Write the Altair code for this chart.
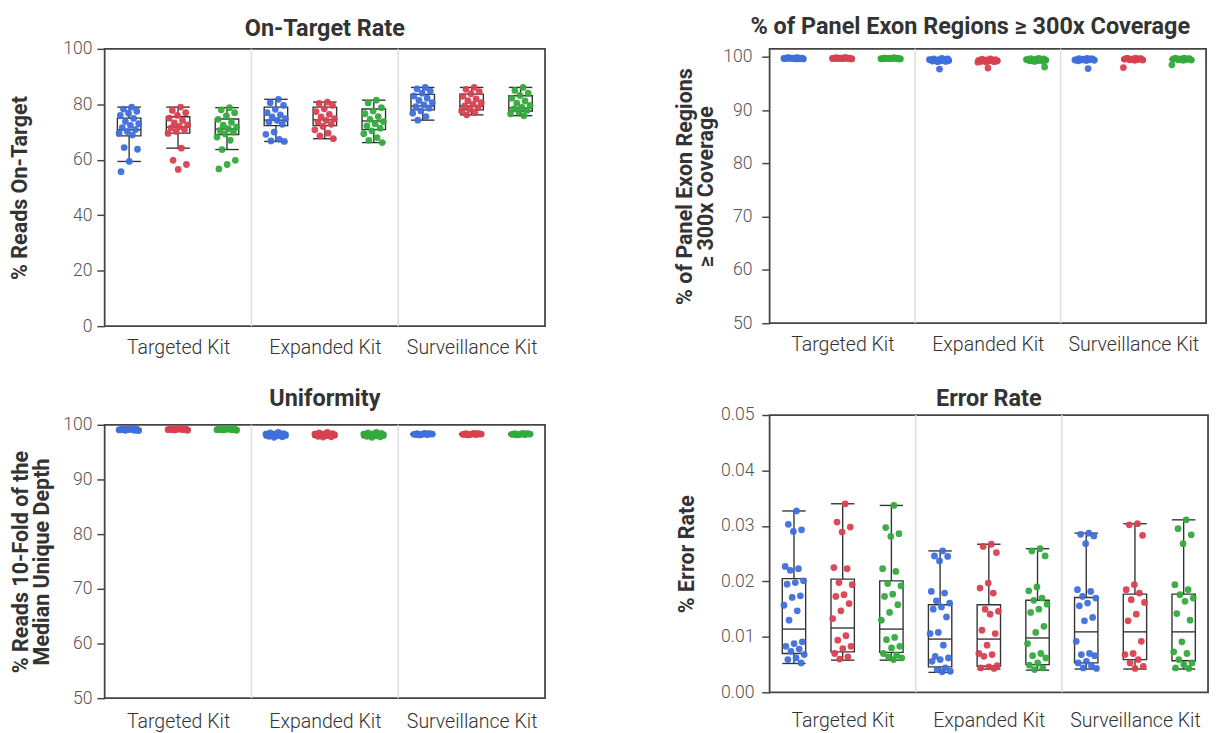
import json
import altair as alt
import pandas as pd

KITS = ["Targeted Kit", "Expanded Kit", "Surveillance Kit"]
SERIES = ["Run 1", "Run 2", "Run 3"]
COLORS = ["#3e6fdc", "#d8404f", "#34aa3c"]

# ---------------- On-Target Rate (% reads on-target) ----------------
ONT_TARGETED_1 = [79.0, 78.3, 77.5, 76.8, 76.0, 74.9, 73.8, 73.0, 72.4, 71.6, 70.9, 70.2, 69.6, 68.9, 64.4, 63.8, 59.4, 55.7]
ONT_TARGETED_2 = [79.0, 77.8, 77.0, 76.0, 75.0, 74.2, 73.3, 72.6, 72.0, 71.5, 70.8, 70.2, 69.5, 64.2, 59.8, 58.3, 56.5]
ONT_TARGETED_3 = [78.8, 78.0, 77.0, 75.8, 74.6, 73.5, 72.5, 71.8, 71.2, 70.6, 70.0, 69.3, 68.2, 67.0, 63.7, 59.8, 58.3, 56.7]
ONT_EXPANDED_1 = [81.8, 80.6, 79.6, 78.2, 77.0, 76.2, 75.5, 74.8, 74.2, 73.6, 72.8, 70.0, 69.2, 67.4, 66.8, 66.6]
ONT_EXPANDED_2 = [80.8, 80.3, 79.6, 78.4, 77.4, 76.4, 75.5, 74.8, 74.2, 73.6, 72.8, 72.0, 70.8, 69.6, 68.6, 67.6]
ONT_EXPANDED_3 = [81.5, 80.5, 78.8, 77.6, 76.6, 75.6, 74.6, 73.8, 73.0, 72.2, 71.4, 70.4, 69.4, 68.0, 67.0, 66.2]
ONT_SURV_1 = [86.1, 85.6, 84.8, 84.0, 83.0, 82.2, 81.4, 80.6, 79.8, 79.2, 78.6, 77.6, 76.8, 75.6, 74.3]
ONT_SURV_2 = [86.1, 85.4, 84.6, 83.8, 82.9, 82.0, 81.3, 80.6, 80.0, 79.4, 78.8, 78.2, 77.6, 77.0, 76.2]
ONT_SURV_3 = [86.1, 85.0, 84.0, 83.2, 82.2, 81.2, 80.4, 79.6, 78.9, 78.4, 77.8, 77.2, 76.6, 75.9]
# box statistics, order: Targeted(1,2,3), Expanded(1,2,3), Surveillance(1,2,3)
ONT_LO = [59.4, 64.2, 63.7, 66.6, 67.6, 66.2, 74.3, 76.2, 75.9]
ONT_Q1 = [68.6, 69.6, 69.1, 72.3, 72.3, 70.9, 78.0, 78.0, 77.6]
ONT_MED = [70.8, 71.8, 71.1, 74.3, 74.4, 74.0, 79.4, 79.4, 78.7]
ONT_Q3 = [75.0, 75.5, 74.7, 79.0, 79.0, 78.3, 83.6, 83.7, 83.1]
ONT_HI = [79.0, 79.0, 78.8, 81.8, 80.8, 81.5, 86.1, 86.1, 86.1]

# ---------------- % of Panel Exon Regions >= 300x Coverage ----------------
EXON_TARGETED_1 = [99.85, 99.8, 99.75, 99.7, 99.65, 99.8, 99.75, 99.6, 99.7, 99.8, 99.65, 99.75, 99.7, 99.6, 99.8, 99.7, 99.65, 99.75]
EXON_TARGETED_2 = [99.85, 99.8, 99.75, 99.7, 99.65, 99.8, 99.75, 99.6, 99.7, 99.8, 99.65, 99.75, 99.7, 99.8, 99.7, 99.65, 99.75]
EXON_TARGETED_3 = [99.8, 99.75, 99.7, 99.65, 99.6, 99.75, 99.7, 99.6, 99.7, 99.75, 99.65, 99.7, 99.65, 99.8, 99.7, 99.6]
EXON_EXPANDED_1 = [99.7, 99.6, 99.55, 99.5, 99.45, 99.4, 99.35, 99.3, 99.25, 99.2, 99.15, 99.1, 99.5, 99.4, 99.3, 99.6, 97.7]
EXON_EXPANDED_2 = [99.6, 99.55, 99.5, 99.45, 99.4, 99.35, 99.3, 99.25, 99.2, 99.15, 99.1, 99.05, 99.0, 99.4, 99.3, 99.2, 97.9]
EXON_EXPANDED_3 = [99.7, 99.65, 99.6, 99.55, 99.5, 99.45, 99.4, 99.35, 99.3, 99.25, 99.2, 99.15, 99.5, 99.4, 99.3, 98.1]
EXON_SURV_1 = [99.7, 99.65, 99.6, 99.55, 99.5, 99.45, 99.4, 99.35, 99.3, 99.25, 99.6, 99.5, 99.4, 97.8]
EXON_SURV_2 = [99.75, 99.7, 99.65, 99.6, 99.55, 99.5, 99.45, 99.4, 99.35, 99.7, 99.6, 99.5, 98.0]
EXON_SURV_3 = [99.75, 99.7, 99.65, 99.6, 99.55, 99.5, 99.45, 99.4, 99.35, 99.7, 99.6, 99.5, 98.5]
EXON_LO = [99.6, 99.6, 99.6, 99.1, 99.0, 99.15, 99.25, 99.35, 99.35]
EXON_Q1 = [99.65, 99.65, 99.65, 99.2, 99.1, 99.3, 99.38, 99.45, 99.45]
EXON_MED = [99.7, 99.7, 99.7, 99.4, 99.3, 99.42, 99.5, 99.55, 99.55]
EXON_Q3 = [99.78, 99.78, 99.75, 99.55, 99.5, 99.55, 99.6, 99.65, 99.65]
EXON_HI = [99.85, 99.85, 99.8, 99.7, 99.6, 99.7, 99.7, 99.75, 99.75]

# ---------------- Uniformity ----------------
UNI_TARGETED_1 = [99.3, 99.25, 99.2, 99.15, 99.1, 99.05, 99.0, 98.95, 99.2, 99.1, 99.0, 99.15, 99.05, 99.25, 99.1]
UNI_TARGETED_2 = [99.35, 99.3, 99.25, 99.2, 99.15, 99.1, 99.05, 99.0, 99.25, 99.15, 99.1, 99.2, 99.1, 99.3, 99.15]
UNI_TARGETED_3 = [99.35, 99.3, 99.25, 99.2, 99.15, 99.1, 99.05, 99.0, 99.25, 99.15, 99.1, 99.2, 99.1, 99.3, 99.15]
UNI_EXPANDED_1 = [98.6, 98.5, 98.4, 98.35, 98.3, 98.2, 98.15, 98.1, 98.0, 97.9, 97.8, 97.7, 98.3, 98.1, 98.0]
UNI_EXPANDED_2 = [98.6, 98.5, 98.4, 98.35, 98.3, 98.2, 98.15, 98.1, 98.0, 97.9, 97.8, 97.75, 98.3, 98.1, 98.0]
UNI_EXPANDED_3 = [98.6, 98.5, 98.45, 98.35, 98.3, 98.2, 98.15, 98.1, 98.0, 97.9, 97.8, 97.7, 98.3, 98.1, 98.05]
UNI_SURV_1 = [98.45, 98.4, 98.35, 98.3, 98.25, 98.2, 98.15, 98.3, 98.35, 98.25, 98.4, 98.2]
UNI_SURV_2 = [98.45, 98.4, 98.35, 98.3, 98.25, 98.2, 98.15, 98.3, 98.35, 98.25, 98.4, 98.2]
UNI_SURV_3 = [98.45, 98.4, 98.35, 98.3, 98.25, 98.2, 98.15, 98.3, 98.35, 98.25, 98.4, 98.2]
UNI_LO = [98.95, 99.0, 99.0, 97.65, 97.7, 97.65, 98.15, 98.15, 98.15]
UNI_Q1 = [99.05, 99.1, 99.1, 97.8, 97.8, 97.8, 98.22, 98.22, 98.22]
UNI_MED = [99.1, 99.15, 99.15, 98.15, 98.15, 98.15, 98.3, 98.3, 98.3]
UNI_Q3 = [99.2, 99.25, 99.25, 98.45, 98.45, 98.45, 98.38, 98.38, 98.38]
UNI_HI = [99.3, 99.35, 99.35, 98.6, 98.6, 98.6, 98.45, 98.45, 98.45]

# ---------------- Error Rate ----------------
ERR_TARGETED_1 = [0.0327, 0.0303, 0.0293, 0.0290, 0.0227, 0.0223, 0.0220, 0.0201, 0.0198, 0.0195, 0.0174, 0.0171, 0.0157, 0.0147, 0.0130, 0.0091, 0.0088, 0.0083, 0.0078, 0.0074, 0.0068, 0.0062, 0.0059, 0.0053]
ERR_TARGETED_2 = [0.0340, 0.0307, 0.0298, 0.0289, 0.0225, 0.0223, 0.0198, 0.0194, 0.0176, 0.0173, 0.0160, 0.0147, 0.0133, 0.0102, 0.0094, 0.0083, 0.0079, 0.0070, 0.0064, 0.0060]
ERR_TARGETED_3 = [0.0337, 0.0297, 0.0286, 0.0281, 0.0223, 0.0218, 0.0196, 0.0192, 0.0177, 0.0173, 0.0158, 0.0144, 0.0130, 0.0099, 0.0095, 0.0083, 0.0080, 0.0070, 0.0067, 0.0064, 0.0062, 0.0059]
ERR_EXPANDED_1 = [0.0255, 0.0246, 0.0245, 0.0237, 0.0182, 0.0179, 0.0165, 0.0161, 0.0154, 0.0150, 0.0136, 0.0108, 0.0106, 0.0085, 0.0065, 0.0062, 0.0059, 0.0056, 0.0044, 0.0041, 0.0038, 0.0037]
ERR_EXPANDED_2 = [0.0267, 0.0263, 0.0252, 0.0197, 0.0188, 0.0179, 0.0150, 0.0146, 0.0141, 0.0112, 0.0106, 0.0085, 0.0070, 0.0068, 0.0065, 0.0048, 0.0046, 0.0044, 0.0043]
ERR_EXPANDED_3 = [0.0259, 0.0255, 0.0246, 0.0190, 0.0183, 0.0170, 0.0166, 0.0159, 0.0150, 0.0144, 0.0119, 0.0108, 0.0088, 0.0070, 0.0066, 0.0062, 0.0053, 0.0049, 0.0044, 0.0041]
ERR_SURV_1 = [0.0287, 0.0285, 0.0282, 0.0268, 0.0185, 0.0182, 0.0173, 0.0170, 0.0161, 0.0156, 0.0135, 0.0129, 0.0092, 0.0070, 0.0068, 0.0066, 0.0056, 0.0053, 0.0048, 0.0044, 0.0043]
ERR_SURV_2 = [0.0304, 0.0302, 0.0283, 0.0194, 0.0185, 0.0179, 0.0167, 0.0162, 0.0141, 0.0129, 0.0092, 0.0070, 0.0068, 0.0059, 0.0053, 0.0047, 0.0043]
ERR_SURV_3 = [0.0311, 0.0295, 0.0284, 0.0268, 0.0194, 0.0185, 0.0176, 0.0170, 0.0164, 0.0142, 0.0130, 0.0091, 0.0073, 0.0070, 0.0059, 0.0053, 0.0050, 0.0044, 0.0043]
ERR_LO = [0.0052, 0.0058, 0.0058, 0.0036, 0.0042, 0.0040, 0.0042, 0.0042, 0.0042]
ERR_Q1 = [0.0070, 0.0073, 0.0072, 0.0046, 0.0047, 0.0050, 0.0053, 0.0059, 0.0057]
ERR_MED = [0.0114, 0.0116, 0.0114, 0.0096, 0.0096, 0.0098, 0.0109, 0.0109, 0.0109]
ERR_Q3 = [0.0205, 0.0204, 0.0201, 0.0158, 0.0158, 0.0166, 0.0171, 0.0177, 0.0177]
ERR_HI = [0.0327, 0.0340, 0.0337, 0.0255, 0.0267, 0.0259, 0.0287, 0.0304, 0.0311]

FONT = "Roboto"
KITS_JS = json.dumps(KITS)
SERIES_JS = json.dumps(SERIES)
CENTER = f"indexof({KITS_JS}, datum.kit) * {len(SERIES)} + indexof({SERIES_JS}, datum.series) + 0.5"
NSLOT = len(KITS) * len(SERIES)
HALF = 0.24


def points_frame(groups):
    rows = []
    for (kit, ser), vals in groups.items():
        for v in vals:
            rows.append({"kit": kit, "series": ser, "value": v})
    return pd.DataFrame(rows)


def box_frame(lo, q1, med, q3, hi):
    rows = []
    k = 0
    for kit in KITS:
        for ser in SERIES:
            rows.append({"kit": kit, "series": ser, "lo": lo[k], "q1": q1[k],
                         "med": med[k], "q3": q3[k], "hi": hi[k]})
            k += 1
    return pd.DataFrame(rows)


def panel(pts, box, title, ytitle, domain, ticks, fmt, width, height,
          title_offset, title_pad, ylabel_pad, xlabel_pad, title_dx=0):
    xs = alt.Scale(domain=[0, NSLOT], nice=False, zero=False)
    ys = alt.Scale(domain=domain, nice=False, zero=False)
    label_vals = [i * len(SERIES) + len(SERIES) / 2 for i in range(len(KITS))]
    xaxis = alt.Axis(values=label_vals,
                     labelExpr=f"{KITS_JS}[floor(datum.value / {len(SERIES)})]",
                     ticks=False, domain=False, grid=False, title=None,
                     labelFont=FONT, labelFontSize=20, labelColor="#333333",
                     labelFontWeight=300, labelPadding=xlabel_pad)
    yaxis = alt.Axis(values=ticks, format=fmt, title=ytitle, grid=False,
                     domain=False, tickSize=8, tickColor="#444444", tickWidth=1.5,
                     labelFont=FONT, labelFontSize=18, labelColor="#555555",
                     labelFontWeight=300, labelPadding=ylabel_pad,
                     titleFont=FONT, titleFontSize=22,
                     titleFontWeight="bold", titleColor="#333333",
                     titlePadding=title_pad, titleLineHeight=21)

    def X(f):
        return alt.X(f, type="quantitative", scale=xs, axis=xaxis)

    def Y(f):
        return alt.Y(f, type="quantitative", scale=ys, axis=yaxis)

    seps = pd.DataFrame({"b": [i * len(SERIES) for i in range(1, len(KITS))]})
    sep = alt.Chart(seps).mark_rule(color="#dddddd", strokeWidth=1.5).encode(x=X("b"))

    bb = (alt.Chart(box)
          .transform_calculate(c=CENTER)
          .transform_calculate(l=f"datum.c - {HALF}")
          .transform_calculate(r=f"datum.c + {HALF}"))
    stroke = dict(color="#333333", strokeWidth=1.4)
    rect = bb.mark_rect(fill="white", stroke="#333333", strokeWidth=1.4).encode(
        x=X("l"), x2="r:Q", y=Y("q1"), y2="q3:Q")
    med = bb.mark_rule(**stroke).encode(x=X("l"), x2="r:Q", y=Y("med"))
    wlo = bb.mark_rule(**stroke).encode(x=X("c"), y=Y("lo"), y2="q1:Q")
    whi = bb.mark_rule(**stroke).encode(x=X("c"), y=Y("q3"), y2="hi:Q")
    clo = bb.mark_rule(**stroke).encode(x=X("l"), x2="r:Q", y=Y("lo"))
    chi = bb.mark_rule(**stroke).encode(x=X("l"), x2="r:Q", y=Y("hi"))

    dots = (alt.Chart(pts)
            .transform_window(i="row_number()", groupby=["kit", "series"])
            .transform_calculate(c=CENTER)
            .transform_calculate(px="datum.c + ((datum.i * 0.618034) % 1 - 0.5) * 0.44")
            .mark_circle(size=48, opacity=0.95)
            .encode(x=X("px"), y=Y("value"),
                    color=alt.Color("series:N", scale=alt.Scale(domain=SERIES, range=COLORS),
                                    legend=None)))

    return alt.layer(sep, rect, wlo, whi, clo, chi, med, dots).properties(
        width=width, height=height,
        title=alt.TitleParams(text=title, font=FONT, fontSize=24, fontWeight="bold",
                              color="#333333", offset=title_offset, anchor="middle",
                              dx=title_dx))


def groups(lists):
    out = {}
    k = 0
    for kit in KITS:
        for ser in SERIES:
            out[(kit, ser)] = lists[k]
            k += 1
    return out


ont_pts = points_frame(groups([ONT_TARGETED_1, ONT_TARGETED_2, ONT_TARGETED_3,
                               ONT_EXPANDED_1, ONT_EXPANDED_2, ONT_EXPANDED_3,
                               ONT_SURV_1, ONT_SURV_2, ONT_SURV_3]))
exon_pts = points_frame(groups([EXON_TARGETED_1, EXON_TARGETED_2, EXON_TARGETED_3,
                                EXON_EXPANDED_1, EXON_EXPANDED_2, EXON_EXPANDED_3,
                                EXON_SURV_1, EXON_SURV_2, EXON_SURV_3]))
uni_pts = points_frame(groups([UNI_TARGETED_1, UNI_TARGETED_2, UNI_TARGETED_3,
                               UNI_EXPANDED_1, UNI_EXPANDED_2, UNI_EXPANDED_3,
                               UNI_SURV_1, UNI_SURV_2, UNI_SURV_3]))
err_pts = points_frame(groups([ERR_TARGETED_1, ERR_TARGETED_2, ERR_TARGETED_3,
                               ERR_EXPANDED_1, ERR_EXPANDED_2, ERR_EXPANDED_3,
                               ERR_SURV_1, ERR_SURV_2, ERR_SURV_3]))

p1 = panel(ont_pts, box_frame(ONT_LO, ONT_Q1, ONT_MED, ONT_Q3, ONT_HI),
           "On-Target Rate", "% Reads On-Target", [0, 100],
           [0, 20, 40, 60, 80, 100], "d", 451, 284, -1, 32, 5, 12)
p2 = panel(exon_pts, box_frame(EXON_LO, EXON_Q1, EXON_MED, EXON_Q3, EXON_HI),
           "% of Panel Exon Regions ≥ 300x Coverage",
           ["% of Panel Exon Regions", "≥ 300x Coverage"], [50, 101.5],
           [50, 60, 70, 80, 90, 100], "d", 447, 281, 9, 6, 10, 12, title_dx=-18)
p3 = panel(uni_pts, box_frame(UNI_LO, UNI_Q1, UNI_MED, UNI_Q3, UNI_HI),
           "Uniformity", ["% Reads 10-Fold of the", "Median Unique Depth"],
           [50, 100], [50, 60, 70, 80, 90, 100], "d", 451, 280, 5, 10, 5, 14)
p4 = panel(err_pts, box_frame(ERR_LO, ERR_Q1, ERR_MED, ERR_Q3, ERR_HI),
           "Error Rate", "% Error Rate", [0, 0.05],
           [0, 0.01, 0.02, 0.03, 0.04, 0.05], ".2f", 449, 284, -5, 23, 8, 19)

col1 = alt.vconcat(p1, p3, spacing=29)
col2 = alt.vconcat(p2, p4, spacing=32)
chart = (alt.hconcat(col1, col2, spacing=130)
         .properties(padding={"left": 0, "top": -2, "right": 0, "bottom": 0})
         .configure_view(stroke="#444444", strokeWidth=1.8))

chart.save("out.html", embed_options={"renderer": "svg", "actions": False})
